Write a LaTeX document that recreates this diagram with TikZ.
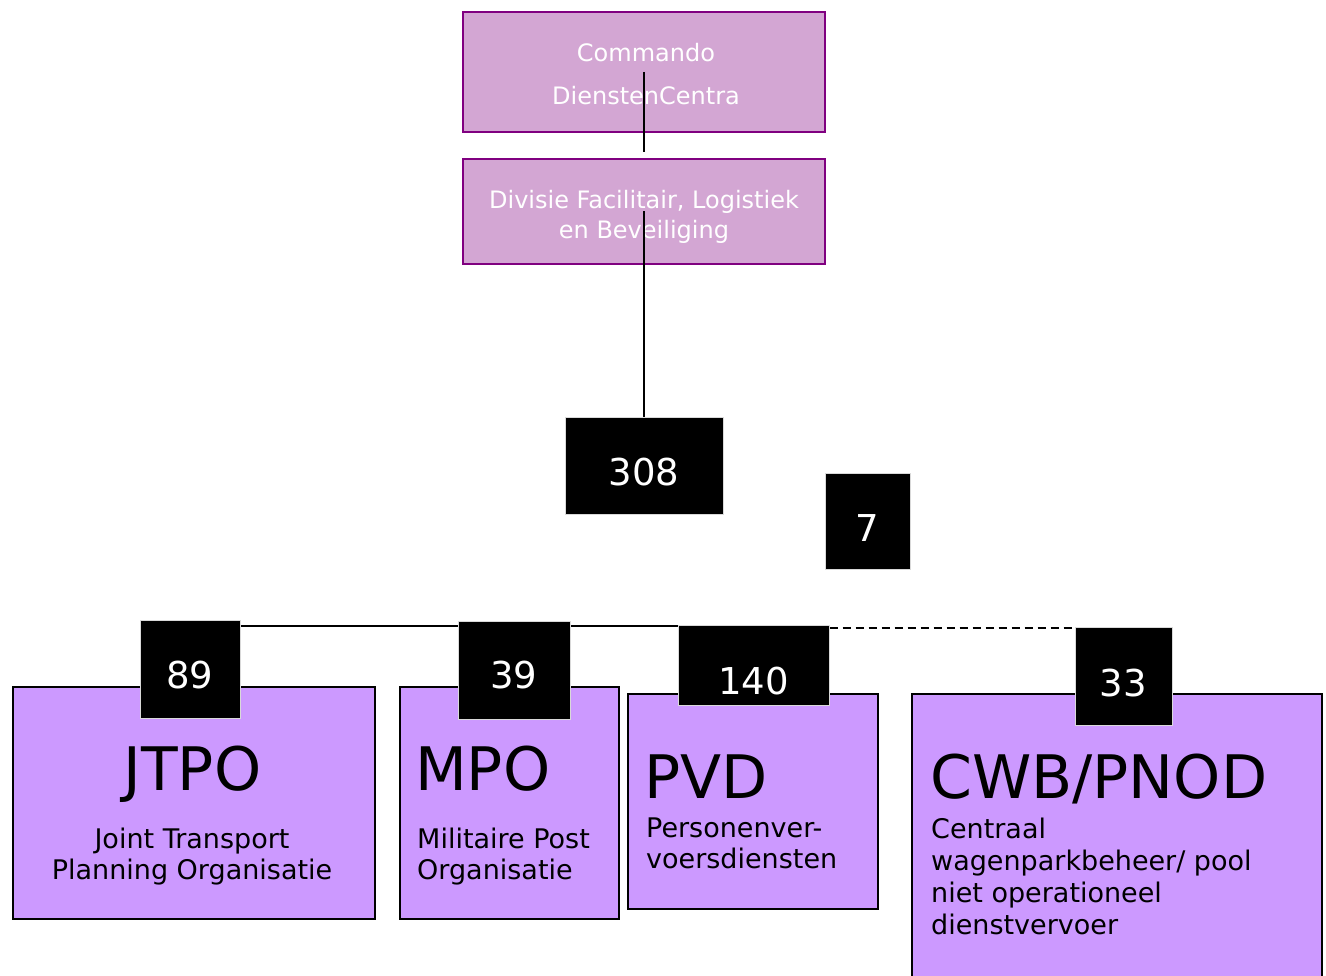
\documentclass[tikz,border=0pt]{standalone}
\usepackage{fontspec}
\setmainfont{DejaVu Sans}
\usetikzlibrary{backgrounds}
\definecolor{cdcfill}{RGB}{211,166,211}
\definecolor{cdcline}{RGB}{128,0,128}
\definecolor{unitfill}{RGB}{204,153,255}
\newcommand{\countlabel}[2]{\raisebox{-#1}[\height][\depth]{#2}}
\tikzset{
  topbox/.style={draw=cdcline, line width=1.5pt, fill=cdcfill, inner sep=0pt, minimum width=362pt},
  toptext/.style={anchor=north, align=center, text=white, inner sep=0pt},
  unitbox/.style={draw=black, line width=2pt, fill=unitfill, anchor=north west, inner sep=0pt},
  unittitle/.style={inner sep=0pt, font=\fontsize{60}{60}\selectfont},
  unittext/.style={inner sep=0pt, font=\fontsize{27}{31}\selectfont},
  countbox/.style={draw=black!15, line width=1pt, fill=black, text=white, inner sep=0pt, font=\fontsize{37}{37}\selectfont},
  link/.style={line width=1.5pt}
}
\begin{document}
\begin{tikzpicture}[x=1pt,y=-1pt]
    \useasboundingbox (0,0) rectangle (1326,976);

    \node[topbox, minimum height=120pt] (cdc) at (644,72) {};
    \node[toptext, font=\fontsize{24}{43}\selectfont] (cdctext) at (646,43) {Commando\\DienstenCentra};
    \node[topbox, minimum height=105pt] (dfl) at (644,211.5) {};
    \node[toptext, font=\fontsize{24}{30}\selectfont] (dfltext) at (644,190) {Divisie Facilitair, Logistiek\\en Beveiliging};

    \node[countbox, minimum width=158pt, minimum height=97pt] (n308) at (644,465.5) {\countlabel{6.5pt}{308}};
    \node[countbox, minimum width=85pt, minimum height=96pt] (n7) at (867.5,521) {\countlabel{7.5pt}{7}};

    \node[unitbox, minimum width=362pt, minimum height=232pt] (jtpo) at (12,686) {};
    \node[unitbox, minimum width=219pt, minimum height=232pt] (mpo) at (399,686) {};
    \node[unitbox, minimum width=250pt, minimum height=215pt] (pvd) at (627,693) {};
    \node[unitbox, minimum width=410pt, minimum height=300pt] (cwb) at (911,693) {};

    \node[unittitle, anchor=base] (jtpotitle) at (192.5,790) {JTPO};
    \node[unittext, anchor=north, align=center] (jtpotext) at (192,827.5) {Joint Transport\\Planning Organisatie};
    \node[unittitle, anchor=base west] (mpotitle) at (415,790) {MPO};
    \node[unittext, anchor=north west, align=left] (mpotext) at (417,827.5) {Militaire Post\\Organisatie};
    \node[unittitle, anchor=base west] (pvdtitle) at (644,798) {PVD};
    \node[unittext, anchor=north west, align=left] (pvdtext) at (646,817.5) {Personenver-\\voersdiensten};
    \node[unittitle, anchor=base west] (cwbtitle) at (930,798) {CWB/PNOD};
    \node[unittext, anchor=north west, align=left, font=\fontsize{27}{32}\selectfont] (cwbtext) at (931,817.5) {Centraal\\wagenparkbeheer/ pool\\niet operationeel\\dienstvervoer};

    \node[countbox, minimum width=100pt, minimum height=98pt] (n89) at (190,669) {\countlabel{6.5pt}{89}};
    \node[countbox, minimum width=112pt, minimum height=98pt] (n39) at (514,670) {\countlabel{5.5pt}{39}};
    \node[countbox, minimum width=151pt, minimum height=80pt] (n140) at (753.5,665) {\countlabel{16.5pt}{140}};
    \node[countbox, minimum width=97pt, minimum height=98pt] (n33) at (1123.5,676) {\countlabel{7.5pt}{33}};

    \coordinate (cdcend) at (644,152);
    \coordinate (bar) at (0,626);
    \coordinate (dashbar) at (0,628);
    \draw[link] (cdc.center) -- (cdcend);
    \draw[link] (dfl.center) -- (n308.north);
    \begin{scope}[on background layer]
        \draw[link] (n89.east |- bar) -- (n140.west |- bar);
        \draw[link, dash pattern=on 8pt off 5pt] (n140.east |- dashbar) -- (n33.west |- dashbar);
    \end{scope}
\end{tikzpicture}
\end{document}
